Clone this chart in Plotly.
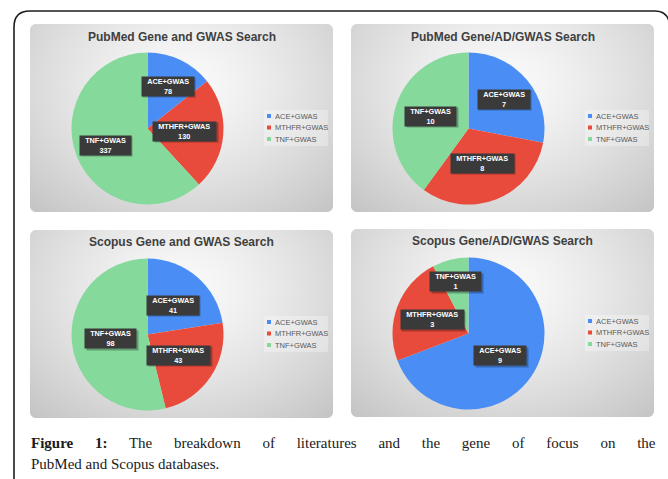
import math, zlib, struct, base64
import numpy as np
import plotly.graph_objects as go

W, H = 668, 479

# ---------------- data ----------------
categories = ["ACE+GWAS", "MTHFR+GWAS", "TNF+GWAS"]
chart_titles = ["PubMed Gene and GWAS Search", "PubMed Gene/AD/GWAS Search",
                "Scopus Gene and GWAS Search", "Scopus Gene/AD/GWAS Search"]
pubmed_gene_gwas = [78, 130, 337]
pubmed_gene_ad_gwas = [7, 8, 10]
scopus_gene_gwas = [41, 43, 98]
scopus_gene_ad_gwas = [9, 3, 1]
caption_bold = "Figure 1:"
caption_line1 = "The breakdown of literatures and the gene of focus on the"
caption_line2 = "PubMed and Scopus databases."

series = [pubmed_gene_gwas, pubmed_gene_ad_gwas, scopus_gene_gwas, scopus_gene_ad_gwas]

# ---------------- style ----------------
colors = ["#4a8ef5", "#e84b3c", "#85d99b"]
panels = [(30, 24, 303, 188), (351, 24, 303, 188), (30, 230, 303, 188), (351, 229, 303, 188)]
label_radius = [[0.62, 0.49, 0.6], [0.6, 0.49, 0.52], [0.51, 0.49, 0.49], [0.51, 0.51, 0.7]]
R = 76


def X(p):
    return p / W


def Y(p):
    return 1 - p / H


def png_uri(arr):
    h, w, _ = arr.shape
    raw = b"".join(b"\x00" + arr[i].tobytes() for i in range(h))

    def chunk(t, d):
        c = struct.pack(">I", len(d)) + t + d
        return c + struct.pack(">I", zlib.crc32(t + d) & 0xffffffff)
    png = b"\x89PNG\r\n\x1a\n" + chunk(b"IHDR", struct.pack(">IIBBBBB", w, h, 8, 6, 0, 0, 0)) \
        + chunk(b"IDAT", zlib.compress(raw, 9)) + chunk(b"IEND", b"")
    return "data:image/png;base64," + base64.b64encode(png).decode()


def panel_bg(w, h, rad=6):
    yy, xx = np.mgrid[0:h, 0:w].astype(float)
    dx = (xx / w - 0.5) / 0.6
    dy = (yy / h - 0.32) / 0.75
    d = np.sqrt(dx ** 2 + dy ** 2)
    v = np.clip(251 - 42 * d ** 1.3, 185, 255)
    cxp = np.clip(xx + 0.5, rad, w - rad)
    cyp = np.clip(yy + 0.5, rad, h - rad)
    dist = np.sqrt((xx + 0.5 - cxp) ** 2 + (yy + 0.5 - cyp) ** 2)
    a = np.clip(rad - dist + 0.5, 0, 1) * 255
    arr = np.zeros((h, w, 4), dtype=np.uint8)
    arr[..., 0] = v
    arr[..., 1] = v
    arr[..., 2] = v
    arr[..., 3] = a
    return png_uri(arr)


bold_w = {"A": .722, "C": .722, "E": .667, "+": .584, "G": .778, "W": .944, "S": .667,
          "M": .833, "T": .611, "H": .722, "F": .611, "R": .722, "N": .722}

fig = go.Figure()
images, shapes, annotations = [], [], []

for k, (x0, y0, pw, ph) in enumerate(panels):
    images.append(dict(source=panel_bg(pw, ph), xref="paper", yref="paper",
                       x=X(x0), y=Y(y0), sizex=pw / W, sizey=ph / H,
                       xanchor="left", yanchor="top", sizing="stretch", layer="below"))
    cx, cy = x0 + 117.5, y0 + 104.5
    vals = series[k]
    fig.add_trace(go.Pie(labels=categories, values=vals, sort=False, direction="clockwise",
                         rotation=0, textinfo="none", hoverinfo="label+value",
                         marker=dict(colors=colors, line=dict(width=0)),
                         domain=dict(x=[X(cx - R), X(cx + R)], y=[Y(cy + R), Y(cy - R)]),
                         showlegend=False))
    annotations.append(dict(text="<b>%s</b>" % chart_titles[k], x=X(x0 + pw / 2), y=Y(y0 + 12.5),
                            xref="paper", yref="paper", showarrow=False,
                            font=dict(family="Liberation Sans, Arial", size=12, color="#404040"),
                            xanchor="center", yanchor="middle"))
    tot = float(sum(vals))
    cum = 0.0
    for i, (c, v) in enumerate(zip(categories, vals)):
        mid = (cum + v / 2) / tot * 2 * math.pi
        cum += v
        f = label_radius[k][i]
        lx = cx + f * R * math.sin(mid)
        ly = cy - f * R * math.cos(mid)
        bw = sum(bold_w.get(ch, .556) for ch in c) * 7.3 + 10
        txt = "<b>%s<br>%d</b>" % (c, v)
        annotations.append(dict(text=" ", x=X(lx + 1.5), y=Y(ly + 1.5), xref="paper", yref="paper",
                                showarrow=False, width=bw, height=19, borderpad=0,
                                xanchor="center", yanchor="middle",
                                bgcolor="rgba(0,0,0,0.28)", font=dict(size=7)))
        annotations.append(dict(text=txt, x=X(lx), y=Y(ly), xref="paper", yref="paper",
                                showarrow=False, width=bw, height=19, borderpad=0,
                                xanchor="center", yanchor="middle",
                                bgcolor="#3a3a3a",
                                font=dict(family="Liberation Sans, Arial", size=7.3, color="white")))
    lx0, ly0 = x0 + 234, y0 + 86
    shapes.append(dict(type="rect", xref="paper", yref="paper", x0=X(lx0), x1=X(lx0 + 64),
                       y0=Y(ly0), y1=Y(ly0 + 36), fillcolor="rgba(255,255,255,0.3)",
                       line=dict(width=0), layer="above"))
    for i, c in enumerate(categories):
        ey = ly0 + 6 + i * 11.5
        shapes.append(dict(type="rect", xref="paper", yref="paper", x0=X(lx0 + 3), x1=X(lx0 + 7),
                           y0=Y(ey - 2), y1=Y(ey + 2), fillcolor=colors[i], line=dict(width=0),
                           layer="above"))
        annotations.append(dict(text=c, x=X(lx0 + 8.5), y=Y(ey), xref="paper", yref="paper",
                                showarrow=False, xanchor="left", yanchor="middle",
                                font=dict(family="Liberation Sans, Arial", size=7.5, color="#595959")))

shapes.append(dict(type="path", xref="paper", yref="paper",
                   path="M %f %f L %f %f Q %f %f %f %f L %f %f Q %f %f %f %f L %f %f" % (
                       X(14), Y(485), X(14), Y(27), X(14), Y(11), X(30), Y(11),
                       X(655), Y(11), X(666), Y(11), X(669), Y(21), X(669), Y(40)),
                   line=dict(color="#1e1e1e", width=1.6)))

annotations.append(dict(text="<span style='word-spacing:18px'><b>%s</b> %s</span>" % (caption_bold, caption_line1),
                        x=X(29), y=Y(443), xref="paper", yref="paper", showarrow=False,
                        xanchor="left", yanchor="middle",
                        font=dict(family="Liberation Serif, Times New Roman", size=15, color="#1a1a1a")))
annotations.append(dict(text=caption_line2, x=X(29), y=Y(464), xref="paper", yref="paper",
                        showarrow=False, xanchor="left", yanchor="middle",
                        font=dict(family="Liberation Serif, Times New Roman", size=15, color="#1a1a1a")))

fig.update_layout(width=W, height=H, margin=dict(l=0, r=0, t=0, b=0),
                  paper_bgcolor="white", plot_bgcolor="white",
                  images=images, shapes=shapes, annotations=annotations)
fig.write_html("out.html", config={"displayModeBar": False},
               post_script="document.body.style.margin='0px';document.body.style.overflow='hidden';")
